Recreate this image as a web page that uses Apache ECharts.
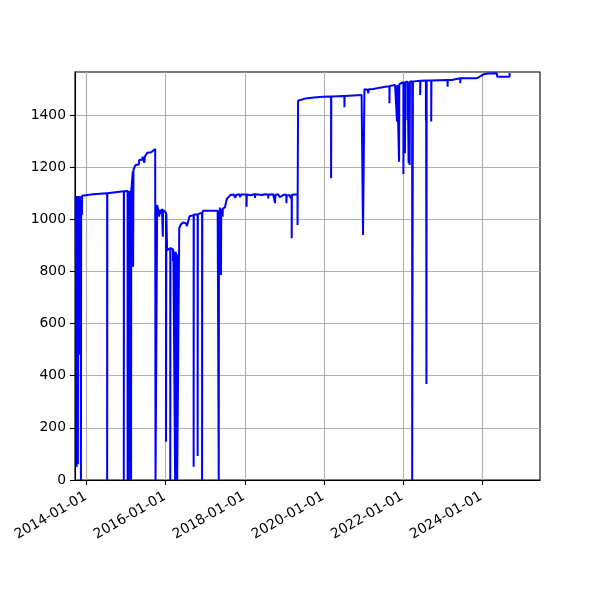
<!DOCTYPE html>
<html><head><meta charset="utf-8">
<script src="https://cdn.jsdelivr.net/npm/echarts@6/dist/echarts.min.js"></script>
<style>html,body{margin:0;padding:0;background:#fff}#c{width:600px;height:600px}</style>
</head><body><div id="c"></div>
<script>
const dates = [
'2013-09-22','2013-09-30','2013-09-30','2013-10-02','2013-10-12','2013-10-12','2013-10-14',
'2013-10-26','2013-10-26','2013-10-28','2013-11-03','2013-11-03','2013-11-05','2013-11-09','2013-11-09','2013-11-11','2013-11-18','2013-11-18','2013-11-20','2013-11-28',
'2014-03-01','2014-07-09','2014-07-09','2014-07-11','2014-12-10','2014-12-10','2014-12-12',
'2015-01-14','2015-01-14','2015-01-16','2015-01-26','2015-01-26','2015-01-28','2015-02-06','2015-02-06','2015-02-08','2015-02-15','2015-02-15','2015-02-17','2015-03-03',
'2015-03-03','2015-03-06','2015-03-06','2015-03-09','2015-03-25','2015-03-28','2015-04-28','2015-05-01','2015-05-28','2015-06-02',
'2015-06-16','2015-06-18','2015-06-22','2015-07-10','2015-07-14','2015-08-20','2015-08-25','2015-09-26','2015-09-29','2015-09-29','2015-10-12',
'2015-10-14','2015-10-22','2015-10-29','2015-11-02','2015-11-08','2015-11-22','2015-11-28','2015-12-05','2015-12-05','2015-12-08','2015-12-25',
'2016-01-04','2016-01-04','2016-01-07','2016-01-14','2016-01-28','2016-02-12','2016-02-12','2016-02-14','2016-02-28','2016-03-08','2016-03-08','2016-03-12',
'2016-03-28','2016-03-28','2016-03-30','2016-04-14','2016-04-16','2016-05-03','2016-05-05','2016-05-20','2016-06-08','2016-07-05','2016-07-15','2016-07-25',
'2016-08-08','2016-08-20','2016-09-15','2016-09-15','2016-09-17','2016-10-22','2016-10-22','2016-10-24','2016-12-02','2016-12-02','2016-12-04','2016-12-12',
'2017-04-25','2017-05-05','2017-05-05','2017-05-07','2017-05-13','2017-05-13','2017-05-16','2017-05-26','2017-05-26','2017-05-28','2017-06-10','2017-06-10','2017-06-12',
'2017-07-01','2017-07-18','2017-08-05','2017-08-20','2017-09-20','2017-10-05','2017-10-12','2017-11-10','2017-11-20','2017-11-25',
'2018-01-17','2018-01-17','2018-01-19','2018-02-25','2018-03-05','2018-04-05','2018-04-05','2018-04-07','2018-06-10','2018-07-01','2018-08-05','2018-08-05','2018-08-07',
'2018-09-20','2018-10-07','2018-10-07','2018-10-10','2018-11-05','2018-11-20','2018-12-01','2018-12-25','2019-01-20','2019-01-20','2019-01-23',
'2019-02-15','2019-03-05','2019-03-10','2019-03-10','2019-03-12','2019-04-10','2019-05-03','2019-05-03','2019-05-08',
'2019-07-01','2019-10-01','2019-12-25','2020-03-08','2020-03-08','2020-03-10','2020-07-09','2020-07-09','2020-07-11','2020-12-15','2020-12-28','2020-12-28','2021-01-08','2021-01-10',
'2021-02-10','2021-02-14','2021-02-20','2021-04-01','2021-06-04','2021-08-01','2021-08-29','2021-08-29','2021-08-31','2021-10-20',
'2021-11-07','2021-11-07','2021-11-09','2021-11-26','2021-11-26','2021-11-28','2021-12-05','2022-01-05','2022-01-05','2022-01-07','2022-01-20','2022-01-20','2022-01-22',
'2022-02-12','2022-02-12','2022-02-14','2022-02-22','2022-02-22','2022-02-24','2022-03-04','2022-03-04','2022-03-06','2022-03-27','2022-03-27','2022-04-03','2022-04-03',
'2022-05-01','2022-06-09','2022-06-09','2022-06-11','2022-08-01','2022-08-01','2022-08-03','2022-08-06','2022-08-06','2022-08-08','2022-09-19','2022-09-19','2022-09-21',
'2023-02-17','2023-02-17','2023-02-19','2023-03-27','2023-03-29','2023-06-14','2023-06-14','2023-06-16','2023-11-15','2023-11-30','2024-01-15','2024-03-02','2024-05-18','2024-05-20','2024-09-12','2024-09-13'
];
const values = [
1089,1089,50,1089,1089,60,1089,
1088,480,1088,1088,863,1088,1088,0,1088,1088,1016,1090,1093,
1096,1100,0,1100,1108,0,1108,
1109,0,1109,1109,0,1109,1110,70,1110,1110,0,1110,1110,
1183,1183,818,1190,1192,1208,1210,1227,1228,1240,
1240,1217,1240,1242,1255,1257,1262,1270,1272,0,0,
1055,1040,1045,1010,1036,1022,1040,1035,933,1036,1030,
1025,147,1020,882,889,889,0,889,885,885,840,882,
880,0,875,860,0,0,966,980,988,985,974,990,
1012,1016,1016,51,1018,1018,92,1020,1025,0,1025,1033,
1033,1030,0,1035,1040,1000,1045,1040,786,1040,1035,1010,1042,
1045,1078,1082,1093,1095,1082,1093,1096,1085,1095,
1095,1048,1095,1092,1098,1097,1082,1096,1093,1096,1095,1080,1094,
1096,1095,1062,1093,1096,1085,1092,1094,1094,1062,1090,
1093,1080,1095,927,1094,1095,1095,978,1455,
1462,1467,1470,1471,1157,1471,1473,1430,1473,1477,1483,940,940,1499,
1497,1483,1499,1500,1505,1509,1510,1445,1511,1515,
1515,1375,1515,1516,1221,1518,1524,1526,1174,1526,1527,1253,1527,
1528,1381,1528,1528,1215,1528,1529,1208,1529,1529,0,0,1529,
1530,1531,1477,1531,1532,1381,1532,1532,368,1532,1532,1375,1532,
1534,1509,1534,1534,1541,1541,1522,1541,1541,1547,1556,1559,1560,1547,1547,1561
];
const xTickDates = ['2014-01-01','2016-01-01','2018-01-01','2020-01-01','2022-01-01','2024-01-01'];
const yTickValues = [0,200,400,600,800,1000,1200,1400];
const xRange = ['2013-09-15','2025-06-20'];
const yRange = [0, 1565];

const seriesData = dates.map((d, i) => [d, values[i]]);
const font = {color:'#000', fontFamily:'DejaVu Sans', fontSize:13.9};
const chart = echarts.init(document.getElementById('c'), null, {renderer:'canvas'});
chart.setOption({
  animation:false,
  backgroundColor:'#fff',
  grid:{left:75, right:60, top:72, bottom:120, show:true, borderColor:'#000', borderWidth:1.1, outerBoundsMode:'none', containLabel:false},
  xAxis:{
    type:'time', min:xRange[0], max:xRange[1],
    axisLine:{show:true, onZero:false, lineStyle:{color:'#000', width:1.1}},
    axisTick:{show:true, inside:false, length:5, lineStyle:{color:'#000', width:1.1}, customValues:xTickDates},
    axisLabel:Object.assign({rotate:30, margin:15, formatter:'{yyyy}-{MM}-{dd}', customValues:xTickDates, padding:[0,1,0,0], hideOverlap:false}, font),
    splitLine:{show:true, lineStyle:{color:'#b0b0b0', width:1.1}},
    minorTick:{show:false}
  },
  yAxis:{
    type:'value', min:yRange[0], max:yRange[1], interval:200,
    axisLine:{show:true, onZero:false, lineStyle:{color:'#000', width:1.1}},
    axisTick:{show:true, inside:false, length:5, lineStyle:{color:'#000', width:1.1}, customValues:yTickValues},
    axisLabel:Object.assign({margin:9, customValues:yTickValues, formatter:v => String(v)}, font),
    splitLine:{show:true, lineStyle:{color:'#b0b0b0', width:1.1}}
  },
  series:[{
    type:'line', data:seriesData, showSymbol:false, symbol:'none',
    lineStyle:{color:'#0000ff', width:2}, itemStyle:{color:'#0000ff'},
    clip:true, silent:true
  }]
});
</script>
</body></html>
